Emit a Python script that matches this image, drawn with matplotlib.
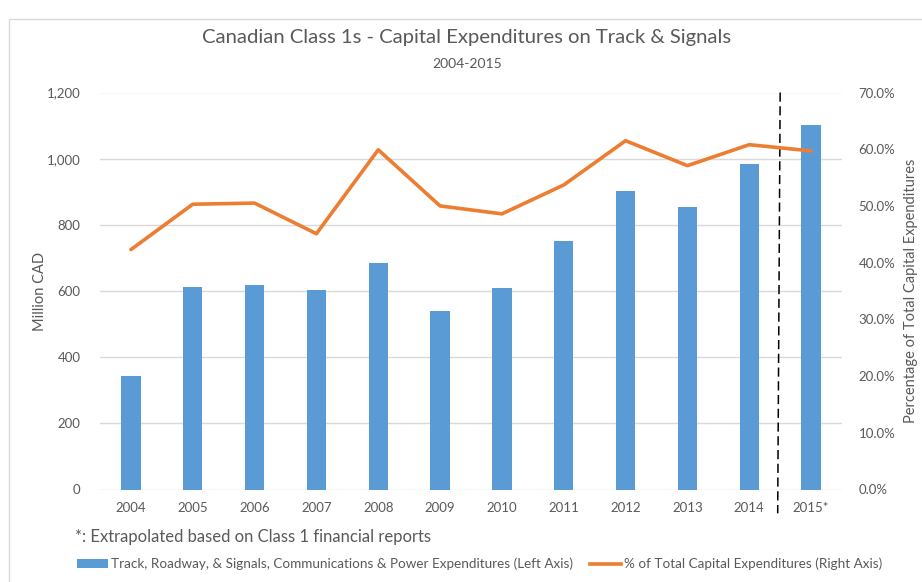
import matplotlib
matplotlib.use("Agg")
import matplotlib.pyplot as plt
from matplotlib.lines import Line2D
from matplotlib.patches import Patch, Rectangle
import numpy as np

plt.rcParams["font.family"] = ["Lato", "DejaVu Sans"]

years = ["2004", "2005", "2006", "2007", "2008", "2009", "2010",
         "2011", "2012", "2013", "2014", "2015*"]
spend = [342, 612, 617, 603, 686, 540, 609, 752, 902, 855, 983, 1101]   # million CAD
share = [42.3, 50.3, 50.5, 45.1, 59.9, 50.0, 48.6, 53.7, 61.5, 57.1, 60.8, 59.7]  # %

BLUE = "#5B9BD5"
ORANGE = "#ED7D31"
GREY = "#595959"
GRID = "#D9D9D9"

fig = plt.figure(figsize=(9.22, 5.82), dpi=100)
fig.patches.append(Rectangle((9 / 922, -0.01), 1.0, 1 - 19 / 582 + 0.01, transform=fig.transFigure,
                             fill=False, edgecolor="#D9D9D9", lw=1))

ax = fig.add_axes([100 / 922, 1 - 489.5 / 582, 742 / 922, 397 / 582])
ax2 = ax.twinx()

x = np.arange(len(years))
ax.bar(x, spend, width=0.315, color=BLUE, zorder=2)
ax.set_ylim(0, 1200)
ax.set_yticks(range(0, 1201, 200))
ax.set_yticklabels([f"{v:,}" for v in range(0, 1201, 200)])
ax.set_xlim(-0.5, len(years) - 0.5)
ax.set_xticks(x)
ax.set_xticklabels(years)
ax.grid(axis="y", color=GRID, lw=1, zorder=0)
ax.set_axisbelow(True)

ax2.plot(x, share, color=ORANGE, lw=2.6, solid_capstyle="round", zorder=3)
ax2.set_ylim(0, 70)
ax2.set_yticks(range(0, 71, 10))
ax2.set_yticklabels([f"{v:.1f}%" for v in range(0, 71, 10)])

for a in (ax, ax2):
    for s in a.spines.values():
        s.set_visible(False)
    a.tick_params(length=0, colors=GREY, labelsize=9.5)
ax.tick_params(axis="y", pad=14)
ax.tick_params(axis="x", pad=9)
ax2.tick_params(axis="y", pad=12)

ax.set_ylabel("Million CAD", color=GREY, fontsize=10.5, labelpad=0)
ax2.set_ylabel("Percentage of Total Capital Expenditures", color=GREY, fontsize=10.5, labelpad=6)

# dashed separator between actual and extrapolated year
ax.plot([10.5, 10.46], [1.0, -0.06], transform=ax.get_xaxis_transform(),
        color="black", lw=1.1, ls=(0, (6, 3)), clip_on=False, zorder=5)

fig.text(467 / 922, 1 - 38 / 582, "Canadian Class 1s - Capital Expenditures on Track & Signals",
         ha="center", va="center", fontsize=14.6, color=GREY)
fig.text(467 / 922, 1 - 64 / 582, "2004-2015", ha="center", va="center", fontsize=10, color=GREY)
fig.text(75 / 922, 1 - 537 / 582, "*: Extrapolated based on Class 1 financial reports",
         ha="left", va="center", fontsize=12, color=GREY)

handles = [Patch(facecolor=BLUE, edgecolor="none"), Line2D([], [], color=ORANGE, lw=2.6)]
labels = ["Track, Roadway, & Signals, Communications & Power Expenditures (Left Axis)",
          "% of Total Capital Expenditures (Right Axis)"]
fig.legend(handles, labels, loc="center left", bbox_to_anchor=(65 / 922, 1 - 564 / 582),
           ncol=2, frameon=False, fontsize=9.7, labelcolor=GREY, handlelength=2.3,
           handleheight=0.6, handletextpad=0.2, columnspacing=1.3)

fig.savefig("out.png", dpi=100)
